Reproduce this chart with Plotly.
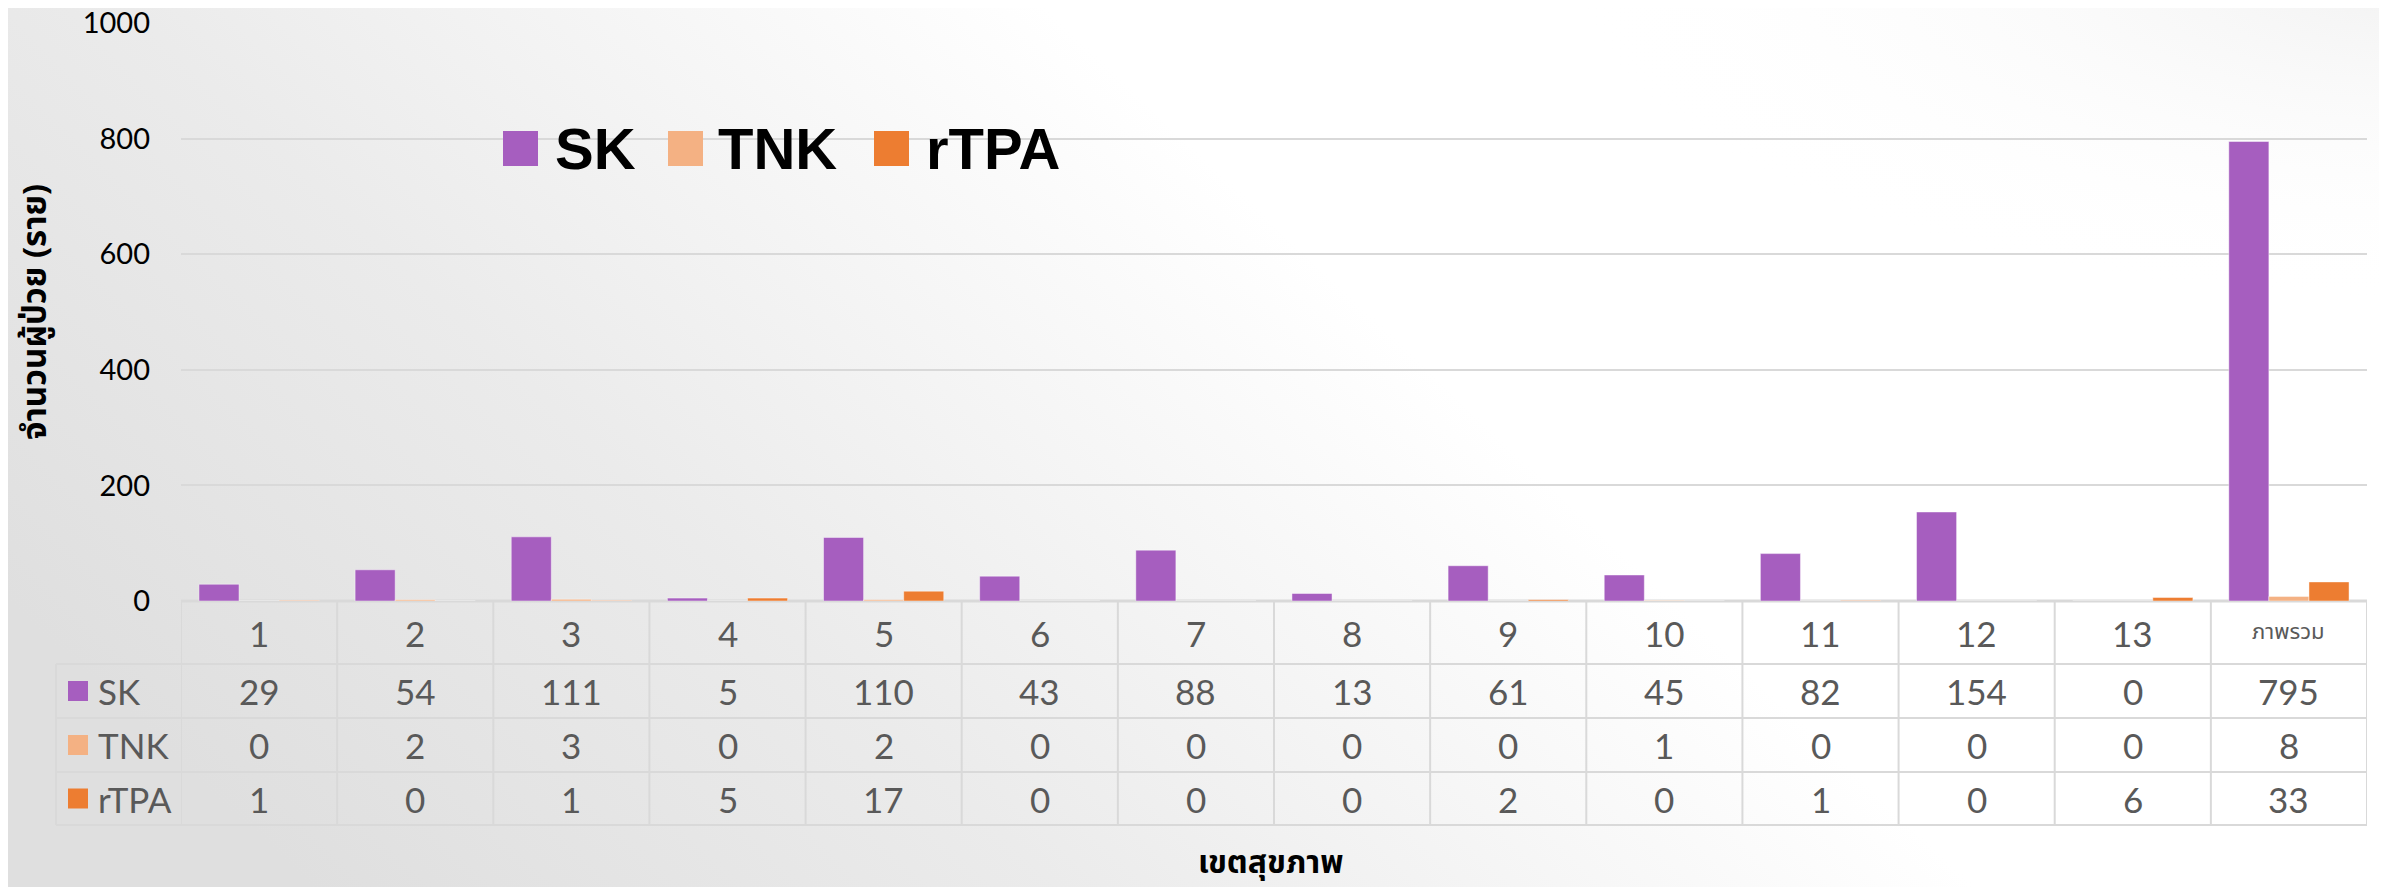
import base64
import plotly.graph_objects as go

# ---------------- data ----------------
categories = ['1', '2', '3', '4', '5', '6', '7', '8', '9', '10', '11', '12', '13', 'ภาพรวม']
sk_values = [29, 54, 111, 5, 110, 43, 88, 13, 61, 45, 82, 154, 0, 795]
tnk_values = [0, 2, 3, 0, 2, 0, 0, 0, 0, 1, 0, 0, 0, 8]
rtpa_values = [1, 0, 1, 5, 17, 0, 0, 0, 2, 0, 1, 0, 6, 33]
series_names = ['SK', 'TNK', 'rTPA']
y_tick_values = [0, 200, 400, 600, 800, 1000]
y_title = 'จำนวนผู้ป่วย (ราย)'
x_title = 'เขตสุขภาพ'

# ---------------- style ----------------
colors = ['#A65EBF', '#F4B183', '#ED7D31']
OFF = 8                      # page body margin
W, H = 2387 - 2 * OFF, 895 - 2 * OFF
L, T = 181 - OFF, 23 - OFF
R = W - (2367 - OFF)
B = H - (601 - OFF)
PW, PH = W - L - R, H - T - B
grid_col = '#d9d9d9'
text_col = '#595959'
num_font = 'Lato, "Open Sans", sans-serif'
thai_font = '"Noto Sans Thai", "Noto Sans", "DejaVu Sans", sans-serif'
legend_font = '"Liberation Sans Narrow", "Liberation Sans", Arial, sans-serif'


def px(p):
    """screen x (page pixels) -> paper x"""
    return (p - OFF - L) / PW


def py(p):
    """screen y (page pixels) -> paper y"""
    return (H - B - (p - OFF)) / PH


series_values = [sk_values, tnk_values, rtpa_values]

fig = go.Figure()
for name, vals, col in zip(series_names, series_values, colors):
    fig.add_trace(go.Bar(
        x=categories, y=vals, name=name,
        marker=dict(color=col, line=dict(color='rgba(255,255,255,0.45)', width=1)),
        showlegend=False,
    ))

# ---------------- background gradient ----------------
svg = (
    f'<svg xmlns="http://www.w3.org/2000/svg" width="{W}" height="{H}" viewBox="0 0 {W} {H}" preserveAspectRatio="none">'
    '<defs>'
    '<linearGradient id="g" x1="0" y1="0.62" x2="0.58" y2="0.38">'
    '<stop offset="0" stop-color="#dfdfdf"/>'
    '<stop offset="0.45" stop-color="#ebebeb"/>'
    '<stop offset="1" stop-color="#ffffff"/>'
    '</linearGradient>'
    '<radialGradient id="r" cx="1" cy="0" r="0.35">'
    '<stop offset="0" stop-color="#e8e8e8" stop-opacity="0.6"/>'
    '<stop offset="1" stop-color="#ffffff" stop-opacity="0"/>'
    '</radialGradient>'
    '</defs>'
    f'<rect width="{W}" height="{H}" fill="url(#g)"/>'
    f'<rect width="{W}" height="{H}" fill="url(#r)"/>'
    '</svg>'
)
svg_uri = 'data:image/svg+xml;base64,' + base64.b64encode(svg.encode()).decode()

shapes = []
annotations = []

# ---------------- data table ----------------
row_edges = [601, 664, 718, 772, 825]
shapes.append(dict(type='line', xref='paper', yref='paper', x0=0, x1=1,
                   y0=py(row_edges[0]), y1=py(row_edges[0]),
                   line=dict(color=grid_col, width=3), layer='between'))
for e in row_edges[1:]:
    shapes.append(dict(type='line', xref='paper', yref='paper', x0=px(56), x1=1,
                       y0=py(e), y1=py(e), line=dict(color=grid_col, width=2), layer='between'))
for i in range(len(categories) + 1):
    shapes.append(dict(type='line', xref='x', yref='paper', x0=i - 0.5, x1=i - 0.5,
                       y0=py(row_edges[0]), y1=py(row_edges[-1]),
                       line=dict(color=grid_col, width=2), layer='between'))
shapes.append(dict(type='line', xref='paper', yref='paper', x0=px(56), x1=px(56),
                   y0=py(row_edges[1]), y1=py(row_edges[-1]),
                   line=dict(color=grid_col, width=2), layer='between'))

# category header row (positions by category index on the x axis)
cat_y = py((row_edges[0] + row_edges[1]) / 2)
for i, c in enumerate(categories):
    is_thai = not c.isdigit()
    annotations.append(dict(x=i, xref='x', y=cat_y, yref='paper', text=c, showarrow=False,
                            xanchor='center', yanchor='middle',
                            font=dict(family=thai_font if is_thai else num_font,
                                      size=22 if is_thai else 35, color=text_col)))

# series rows
for r, (name, vals, col) in enumerate(zip(series_names, series_values, colors)):
    top, bot = row_edges[r + 1], row_edges[r + 2]
    yc = py((top + bot) / 2)
    shapes.append(dict(type='rect', xref='paper', yref='paper', x0=px(68), x1=px(88),
                       y0=py((top + bot) / 2 + 10), y1=py((top + bot) / 2 - 10),
                       fillcolor=col, line=dict(width=0)))
    annotations.append(dict(x=px(96), xref='paper', y=yc, yref='paper', text=name,
                            showarrow=False, xanchor='left', yanchor='middle',
                            font=dict(family=num_font, size=35, color=text_col)))
    for i, v in enumerate(vals):
        annotations.append(dict(x=i, xref='x', y=yc, yref='paper', text=str(v), showarrow=False,
                                xanchor='center', yanchor='middle',
                                font=dict(family=num_font, size=35, color=text_col)))

# ---------------- top legend ----------------
leg_sq = [503, 668, 874]
leg_tx = [556, 719, 927]
for name, col, sx, tx in zip(series_names, colors, leg_sq, leg_tx):
    shapes.append(dict(type='rect', xref='paper', yref='paper', x0=px(sx), x1=px(sx + 35),
                       y0=py(166), y1=py(131), fillcolor=col, line=dict(width=0)))
    annotations.append(dict(x=px(tx - 3), xref='paper', y=py(148), yref='paper',
                            text=f'<b>{name}</b>', showarrow=False, xanchor='left', yanchor='middle',
                            font=dict(family=legend_font, size=58, color='#000000')))

# ---------------- axis titles ----------------
annotations.append(dict(x=px(36), xref='paper', y=py(312), yref='paper', text=f'<b>{y_title}</b>',
                        textangle=-90, showarrow=False, xanchor='center', yanchor='middle',
                        font=dict(family=thai_font, size=33, color='#000000')))
annotations.append(dict(x=px(1271), xref='paper', y=py(863), yref='paper', text=f'<b>{x_title}</b>',
                        showarrow=False, xanchor='center', yanchor='middle',
                        font=dict(family=thai_font, size=32, color='#000000')))

pad = 40
fig.update_layout(
    width=W, height=H,
    margin=dict(l=L, r=R, t=T, b=B, pad=0, autoexpand=False),
    paper_bgcolor='#e8e8e8',
    plot_bgcolor='rgba(0,0,0,0)',
    barmode='group', bargap=0.23, bargroupgap=0,
    showlegend=False,
    shapes=shapes,
    annotations=annotations,
    images=[dict(source=svg_uri, xref='paper', yref='paper',
                 x=-(L + pad) / PW, y=1 + (T + pad) / PH,
                 sizex=(W + 2 * pad) / PW, sizey=(H + 2 * pad) / PH,
                 sizing='stretch', xanchor='left', yanchor='top', layer='below')],
    xaxis=dict(type='category', categoryorder='array', categoryarray=categories,
               range=[-0.5, len(categories) - 0.5], showticklabels=False, showgrid=False,
               zeroline=False, showline=False, ticks='', fixedrange=True, automargin=False),
    yaxis=dict(range=[0, 1000], tickvals=y_tick_values, ticktext=[str(v) for v in y_tick_values],
               showgrid=True, gridcolor=grid_col, gridwidth=2, zeroline=False, showline=False,
               ticks='', ticklabelstandoff=30, ticklabeloverflow='allow', automargin=False,
               tickfont=dict(family=num_font, size=29, color='#000000'), fixedrange=True),
)

fig.write_html('out.html')
